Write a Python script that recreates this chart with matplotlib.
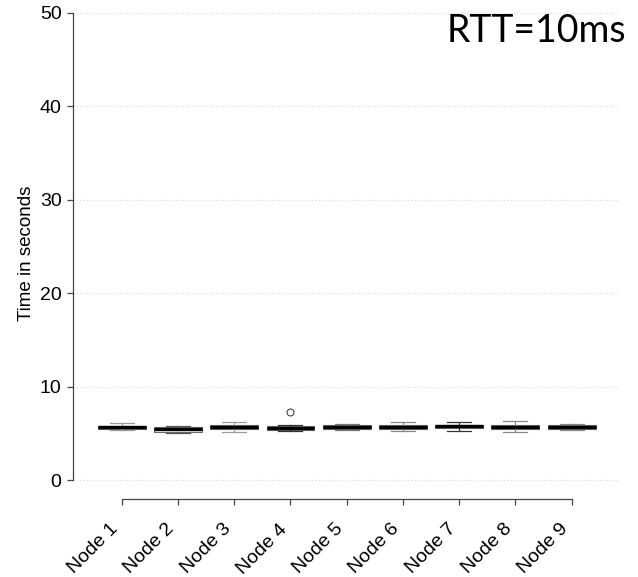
import matplotlib
matplotlib.use('Agg')
import matplotlib.pyplot as plt
import matplotlib.transforms as mtransforms

# 数据（从图上读取的箱线图统计量）
nodes = ['Node 1', 'Node 2', 'Node 3', 'Node 4', 'Node 5',
         'Node 6', 'Node 7', 'Node 8', 'Node 9']
whis_lo = [5.32, 5.06, 5.17, 5.25, 5.35, 5.25, 5.25, 5.10, 5.35]
q1 = [5.46, 5.17, 5.43, 5.32, 5.46, 5.46, 5.60, 5.46, 5.46]
medians = [5.64, 5.43, 5.64, 5.53, 5.64, 5.67, 5.74, 5.67, 5.67]
q3 = [5.80, 5.67, 5.89, 5.74, 5.85, 5.89, 5.89, 5.89, 5.89]
whis_hi = [6.10, 5.81, 6.18, 5.89, 5.96, 6.18, 6.18, 6.30, 6.00]
outliers = [[], [], [], [7.28], [], [], [], [], []]

box_fill = ['#cfcfcf', '#ffffff', '#ececec', '#bdbdbd', '#d6d6d6',
            '#ffffff', '#3a3a3a', '#8f8f8f', '#f2f2f2']
whisk_col = ['#9a9a9a', '#555555', '#9a9a9a', '#333333', '#777777',
             '#888888', '#333333', '#888888', '#888888']

plt.rcParams['font.family'] = ['Liberation Sans', 'DejaVu Sans']

fig = plt.figure(figsize=(6.38, 5.77), dpi=100)
# 绘图区域（R 风格，顶部略超出画布）
ax = fig.add_axes([73.3 / 638, 78.3 / 577, (620 - 73.3) / 638, (498.7 + 6) / 577])

# 网格线
for g in range(0, 51, 10):
    ax.axhline(g, color='#dedede', linestyle=':', linewidth=0.9, zorder=0)

stats = []
for i in range(len(nodes)):
    stats.append({'med': medians[i], 'q1': q1[i], 'q3': q3[i],
                  'whislo': whis_lo[i], 'whishi': whis_hi[i],
                  'fliers': outliers[i]})

bp = ax.bxp(stats, positions=range(1, len(nodes) + 1), widths=0.85,
            patch_artist=True, showfliers=True,
            medianprops=dict(color='black', linewidth=2.4),
            boxprops=dict(edgecolor='#6a6a6a', linewidth=0.8),
            flierprops=dict(marker='o', markerfacecolor='none',
                            markeredgecolor='#444444', markersize=5,
                            markeredgewidth=0.8))

for i, patch in enumerate(bp['boxes']):
    patch.set_facecolor(box_fill[i])
for i in range(len(nodes)):
    for art in bp['whiskers'][2 * i:2 * i + 2] + bp['caps'][2 * i:2 * i + 2]:
        art.set_color(whisk_col[i])
        art.set_linewidth(0.9)

ax.set_xlim(0.14, 9.86)
ax.set_ylim(-2, 52)

for s in ['top', 'right']:
    ax.spines[s].set_visible(False)
ax.spines['left'].set_bounds(0, 50)
ax.spines['bottom'].set_bounds(1, 9)
for s in ['left', 'bottom']:
    ax.spines[s].set_color('#444444')
    ax.spines[s].set_linewidth(0.9)

ax.set_yticks(range(0, 51, 10))
ax.set_xticks(range(1, len(nodes) + 1))
ax.set_xticklabels(nodes, rotation=45, ha='right', va='center',
                   rotation_mode='anchor')
ax.tick_params(axis='both', length=4.5, width=0.9, color='#444444')
ax.tick_params(axis='y', labelsize=14, pad=4)
ax.tick_params(axis='x', labelsize=14, pad=7)

# 标签整体向左下偏移
offset = mtransforms.ScaledTranslation(-0.06, -0.12, fig.dpi_scale_trans)
for lab in ax.get_xticklabels():
    lab.set_transform(lab.get_transform() + offset)

fig.text(27 / 638, 1 - 253 / 577, 'Time in seconds', rotation=90,
         ha='center', va='center', fontsize=13.5)
fig.text(626 / 638, 1 - 42 / 577, 'RTT=10ms', ha='right', va='baseline',
         fontsize=27, family=['Lato', 'DejaVu Sans'])

plt.savefig('out.png', dpi=100)
plt.close()
